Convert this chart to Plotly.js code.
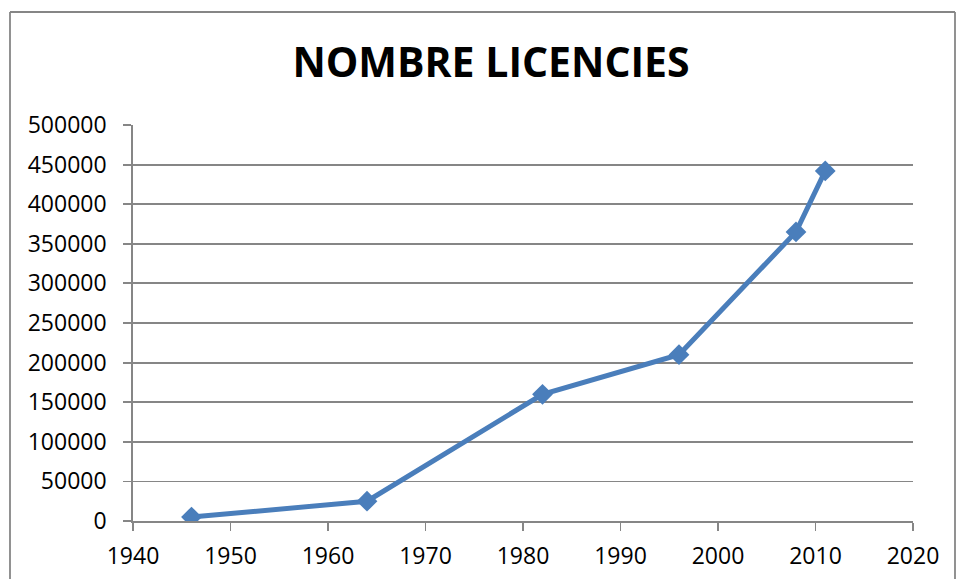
<!DOCTYPE html>
<html>
<head>
<meta charset="utf-8">
<script src="https://cdn.plot.ly/plotly-3.0.1.min.js"></script>
<style>
html,body{margin:0;padding:0;background:#fff;}
#chart{width:958px;height:579px;}
</style>
</head>
<body>
<div id="chart"></div>
<script>
var years = [1946, 1964, 1982, 1996, 2008, 2011];
var licences = [5000, 25000, 160000, 210000, 365000, 442000];
var chartTitle = "NOMBRE LICENCIES";

var blue = "#4a7ebb";
var gray = "#868686";

var trace = {
  x: years,
  y: licences,
  type: "scatter",
  mode: "lines+markers",
  line: {color: blue, width: 5},
  marker: {symbol: "diamond", size: 16, color: blue, line: {width: 0}},
  showlegend: false,
  hoverinfo: "x+y"
};

var layout = {
  width: 958,
  height: 579,
  margin: {l: 133, r: 45, t: 125, b: 58},
  paper_bgcolor: "#ffffff",
  plot_bgcolor: "#ffffff",
  font: {family: "'Open Sans', 'Liberation Sans', sans-serif", size: 23, color: "#000000"},
  title: {
    text: chartTitle,
    font: {family: "'Open Sans', 'Liberation Sans', sans-serif", size: 41, color: "#000000", weight: "bold"},
    x: 491 / 958,
    xanchor: "center",
    xref: "container",
    y: 1 - 63 / 579,
    yanchor: "middle",
    yref: "container"
  },
  xaxis: {
    range: [1940, 2020],
    tickmode: "linear",
    tick0: 1940,
    dtick: 10,
    showgrid: false,
    zeroline: false,
    showline: true,
    linecolor: gray,
    linewidth: 1.8,
    ticks: "outside",
    ticklen: 8,
    tickwidth: 1.8,
    tickcolor: gray,
    ticklabelstandoff: 6,
    tickfont: {size: 23, color: "#000"},
    fixedrange: true
  },
  yaxis: {
    range: [0, 500000],
    tickmode: "linear",
    tick0: 0,
    dtick: 50000,
    exponentformat: "none",
    separatethousands: false,
    tickformat: "d",
    showgrid: true,
    gridcolor: gray,
    gridwidth: 1.8,
    zeroline: false,
    showline: true,
    linecolor: gray,
    linewidth: 1.8,
    ticks: "outside",
    ticklen: 8,
    tickwidth: 1.8,
    tickcolor: gray,
    ticklabelstandoff: 12,
    tickfont: {size: 23, color: "#000"},
    fixedrange: true
  },
  shapes: [
    {type: "line", xref: "paper", yref: "paper",
     x0: (10 - 133) / 780, x1: (10 - 133) / 780, y0: (521 - 12) / 396, y1: (521 - 600) / 396,
     line: {color: gray, width: 1.8}},
    {type: "line", xref: "paper", yref: "paper",
     x0: (10 - 133) / 780, x1: (955 - 133) / 780, y0: (521 - 12) / 396, y1: (521 - 12) / 396,
     line: {color: gray, width: 1.8}},
    {type: "line", xref: "paper", yref: "paper",
     x0: (955 - 133) / 780, x1: (955 - 133) / 780, y0: (521 - 12) / 396, y1: (521 - 600) / 396,
     line: {color: gray, width: 1.8}}
  ]
};

Plotly.newPlot("chart", [trace], layout, {displayModeBar: false, staticPlot: true});
</script>
</body>
</html>
